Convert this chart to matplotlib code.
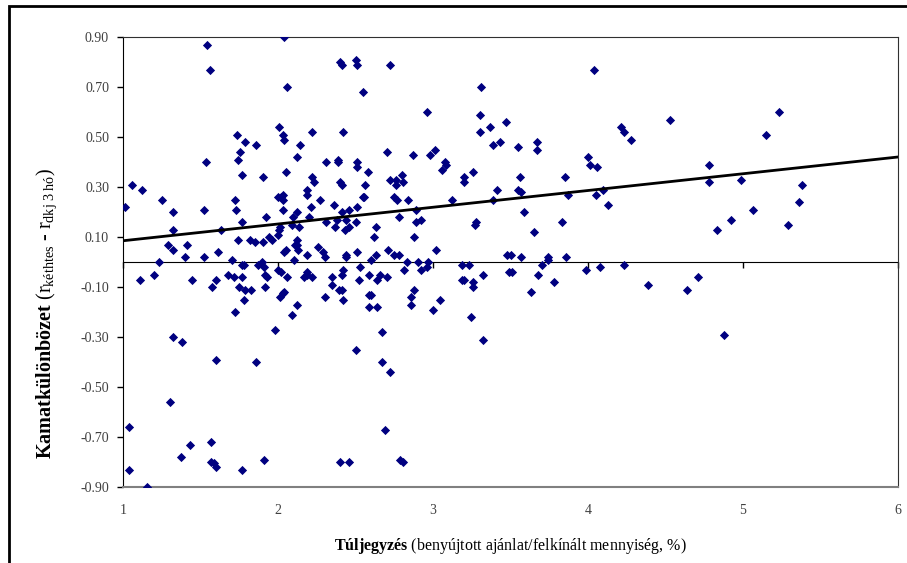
import matplotlib.pyplot as plt
from matplotlib.patches import Rectangle
import numpy as np

# -----------------------------
# Data
# -----------------------------
# Túljegyzés (oversubscription), kamatkülönbözet (spread)
overbid = [
    1.01, 1.06, 1.12, 1.25, 1.32, 1.32, 1.29, 1.32, 1.41, 1.40, 1.23, 1.54, 1.56, 1.535,
    1.52, 1.52, 1.61, 1.63, 1.705, 1.735, 1.79, 1.757, 1.74, 1.77, 1.725, 1.727, 1.77,
    1.74, 1.82, 1.85, 1.86, 1.90, 1.925, 1.94, 1.96, 1.90, 1.78, 1.87, 1.895, 2.04, 2.06,
    2.005, 2.03, 2.04, 2.14, 2.12, 2.22, 2.05, 2.00, 2.02, 2.03, 2.03, 2.03, 2.12, 2.095,
    2.09, 2.135, 2.01, 2.005, 2.00, 2.20, 2.21, 2.19, 2.185, 2.22, 2.23, 2.12, 2.125,
    2.13, 2.11, 2.04, 2.05, 2.10, 2.185,
    2.40, 2.41, 2.50, 2.51, 2.72, 2.55, 2.42, 2.31, 2.39, 2.39, 2.51, 2.51, 2.58, 2.70,
    2.87, 2.96, 2.98, 3.01, 3.075, 3.086, 3.06, 3.31, 3.30, 3.30, 3.37, 3.47, 3.39, 3.43,
    2.27, 2.36, 2.41, 2.46, 2.51, 2.40, 2.41, 2.56, 2.55, 2.555, 2.72, 2.76, 2.76, 2.80,
    2.805, 2.75, 2.77, 2.84, 2.89, 3.12, 3.20, 3.20, 3.26, 3.41, 3.385, 2.31, 2.37, 2.38,
    2.43, 2.44, 2.46, 2.50, 2.63, 2.62, 2.78, 2.89, 2.925, 2.88, 3.27, 3.28, 2.26, 2.29,
    2.30, 2.44, 2.44, 2.51, 2.60, 2.63, 2.71, 2.75, 2.78, 3.02, 3.475, 3.50,
    2.83, 2.905, 2.965, 2.96, 2.92, 2.815,
    4.04, 4.53, 4.21, 4.23, 4.28, 3.55, 3.67, 3.67, 4.00, 4.01, 4.06, 3.56, 3.85, 3.55,
    3.57, 3.87, 4.05, 4.095, 4.13, 3.59, 3.83, 3.65, 3.57, 3.74, 3.745, 3.856, 3.705,
    5.23, 5.15, 4.78, 4.78, 4.985, 5.38, 5.36, 5.065, 4.92, 4.83, 5.29,
    1.77, 1.91, 2.00, 2.02, 2.19, 2.17, 2.22, 2.185, 1.11, 1.20, 1.445, 1.576, 1.60, 1.68,
    1.716, 1.77, 1.75, 1.79, 1.826, 1.78, 1.725, 1.916, 1.927, 1.916, 2.06, 2.01, 2.03,
    2.04, 2.12, 2.09, 1.98, 1.32, 1.38, 1.60, 1.86, 1.30, 1.037, 1.037, 1.157, 1.43,
    1.376, 1.57, 1.57, 1.585, 1.60, 1.77, 1.91,
    3.19, 3.23, 3.19, 3.20, 3.26, 3.26, 3.32, 3.49, 2.35, 2.35, 2.41, 2.42, 2.53, 2.525,
    2.59, 2.64, 2.66, 2.70, 2.30, 2.395, 2.415, 2.42, 2.59, 2.60, 2.59, 2.64, 2.88, 2.86,
    2.86, 3.045, 3.00, 3.245, 3.32, 2.67, 2.50, 2.67, 2.72, 2.69, 2.40, 2.456, 2.79, 2.806,
    3.51, 3.68, 3.78, 3.63, 3.985, 4.08, 4.23, 4.39, 4.64, 4.71, 4.88,
]
spread = [
    0.22, 0.31, 0.29, 0.25, 0.20, 0.13, 0.07, 0.05, 0.07, 0.02, 0.00, 0.87, 0.77, 0.40,
    0.21, 0.02, 0.04, 0.13, 0.01, 0.51, 0.48, 0.44, 0.41, 0.35, 0.25, 0.21, 0.16,
    0.09, 0.09, 0.08, 0.47, 0.34, 0.18, 0.10, 0.09, 0.08, -0.01, -0.01, 0.00, 0.90, 0.70,
    0.54, 0.51, 0.49, 0.47, 0.42, 0.52, 0.36, 0.26, 0.26, 0.27, 0.25, 0.21, 0.20, 0.18,
    0.15, 0.14, 0.14, 0.13, 0.11, 0.18, 0.22, 0.27, 0.29, 0.34, 0.32, 0.09, 0.07,
    0.05, 0.07, 0.04, 0.05, 0.01, 0.03,
    0.80, 0.79, 0.81, 0.79, 0.79, 0.68, 0.52, 0.40, 0.41, 0.40, 0.40, 0.38, 0.36, 0.44,
    0.43, 0.60, 0.43, 0.45, 0.40, 0.39, 0.37, 0.70, 0.59, 0.52, 0.54, 0.56, 0.47, 0.48,
    0.25, 0.23, 0.20, 0.21, 0.22, 0.32, 0.31, 0.31, 0.26, 0.26, 0.33, 0.33, 0.31, 0.35,
    0.32, 0.26, 0.25, 0.25, 0.21, 0.25, 0.34, 0.32, 0.36, 0.29, 0.25, 0.16, 0.14, 0.17,
    0.13, 0.17, 0.14, 0.16, 0.14, 0.10, 0.18, 0.16, 0.17, 0.10, 0.15, 0.16, 0.06, 0.04,
    0.02, 0.03, 0.02, 0.04, 0.01, 0.03, 0.05, 0.03, 0.03, 0.05, 0.03, 0.03,
    0.00, 0.00, 0.00, -0.02, -0.03, -0.03,
    0.77, 0.57, 0.54, 0.52, 0.49, 0.46, 0.48, 0.45, 0.42, 0.39, 0.38, 0.34, 0.34, 0.29,
    0.28, 0.27, 0.27, 0.29, 0.23, 0.20, 0.16, 0.12, 0.02, 0.01, 0.02, 0.02, -0.01,
    0.60, 0.51, 0.39, 0.32, 0.33, 0.31, 0.24, 0.21, 0.17, 0.13, 0.15,
    -0.01, -0.02, -0.03, -0.04, -0.04, -0.06, -0.06, -0.05, -0.07, -0.05, -0.07, -0.10, -0.07, -0.05,
    -0.06, -0.06, -0.10, -0.11, -0.11, -0.15, -0.20, -0.05, -0.06, -0.10, -0.06, -0.14, -0.125,
    -0.12, -0.17, -0.21, -0.27, -0.30, -0.32, -0.39, -0.40, -0.56, -0.66, -0.83, -0.90, -0.73,
    -0.78, -0.72, -0.80, -0.805, -0.82, -0.83, -0.79,
    -0.01, -0.01, -0.07, -0.07, -0.08, -0.10, -0.05, -0.04, -0.06, -0.09, -0.05, -0.03, -0.02, -0.07,
    -0.05, -0.07, -0.05, -0.06, -0.14, -0.11, -0.11, -0.15, -0.13, -0.13, -0.18, -0.18, -0.11, -0.14,
    -0.17, -0.15, -0.19, -0.22, -0.31, -0.28, -0.35, -0.40, -0.44, -0.67, -0.80, -0.80, -0.79, -0.80,
    -0.04, -0.05, -0.08, -0.12, -0.03, -0.02, -0.01, -0.09, -0.11, -0.06, -0.29,
]

# linear trend line as drawn in the source chart
trend_intercept = 0.018
trend_slope = 0.067

x_ticks = [1, 2, 3, 4, 5, 6]
y_ticks = [-0.90, -0.70, -0.50, -0.30, -0.10, 0.10, 0.30, 0.50, 0.70, 0.90]

# -----------------------------
# Plot
# -----------------------------
plt.rcParams["font.family"] = ["Liberation Serif", "DejaVu Serif"]
plt.rcParams["mathtext.fontset"] = "custom"
plt.rcParams["mathtext.rm"] = "Liberation Serif"
plt.rcParams["mathtext.it"] = "Liberation Serif:italic"
plt.rcParams["mathtext.bf"] = "Liberation Serif:bold"

fig = plt.figure(figsize=(9.07, 5.63), dpi=100)
ax = fig.add_axes([123 / 907, 76 / 563, 775 / 907, 450 / 563])

ax.scatter(overbid, spread, marker="D", s=22, color="#000080", linewidths=0, zorder=3)

xs = np.array([1, 6])
ax.plot(xs, trend_intercept + trend_slope * xs, color="black", lw=2, zorder=4)

ax.set_xlim(1, 6)
ax.set_ylim(-0.9, 0.9)
ax.set_xticks(x_ticks)
ax.set_yticks(y_ticks)
ax.set_yticklabels([f"{v:.2f}" for v in y_ticks])

tick_color = "#404040"
ax.tick_params(axis="y", direction="out", length=4, width=1, color="black",
               labelsize=10, labelcolor=tick_color, pad=6)
ax.tick_params(axis="x", length=0, labelsize=10, labelcolor=tick_color, pad=12)

for side in ["top", "right"]:
    ax.spines[side].set_color("#303030")
ax.spines["bottom"].set_color("#808080")
ax.spines["bottom"].set_linewidth(1.5)
ax.spines["left"].set_color("black")

# horizontal axis crossing at zero, with its own tick marks (no labels)
zero_axis = ax.secondary_xaxis(0.5)
zero_axis.set_xticks(x_ticks)
zero_axis.set_xticklabels([])
zero_axis.xaxis.set_ticks_position("bottom")
zero_axis.tick_params(direction="out", length=4, width=1, color="black",
                      labelbottom=False, labeltop=False)
zero_axis.spines["bottom"].set_color("black")

ax.set_xlabel(r"$\mathbf{Túljegyzés}$ (benyújtott ajánlat/felkínált mennyiség, %)",
              fontsize=11.5, labelpad=14)
ax.set_ylabel(r"$\mathbf{Kamatkülönbözet}$ (r$_{\mathrm{kéthtes}}$ - r$_{\mathrm{dkj\ 3\ hó}}$)",
              fontsize=14.5)
ax.yaxis.set_label_coords(-0.082, 0.385)

# outer chart frame
fig.patches.append(Rectangle((9 / 907, -0.1), 1.2, 0.1 + 557 / 563,
                             transform=fig.transFigure, fill=False,
                             edgecolor="black", lw=2))

fig.savefig("out.png", dpi=100)
